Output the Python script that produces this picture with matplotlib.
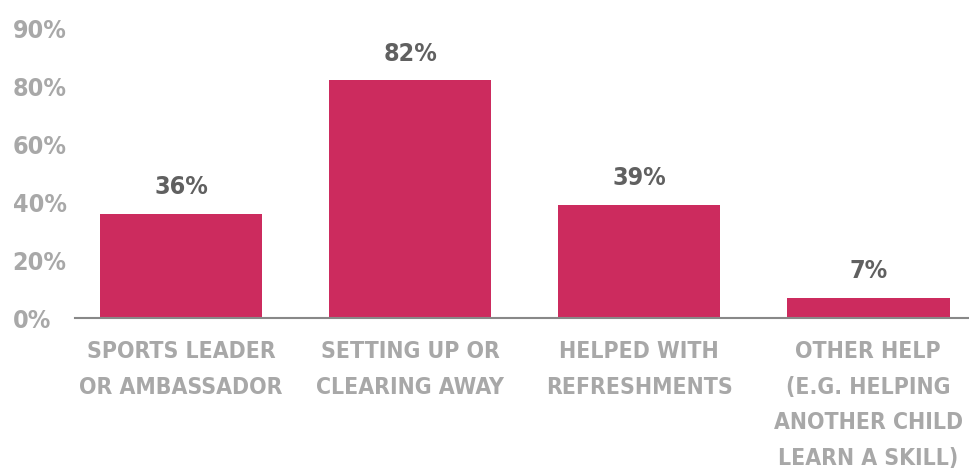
import matplotlib.pyplot as plt

categories = ['SPORTS LEADER\nOR AMBASSADOR', 'SETTING UP OR\nCLEARING AWAY',
              'HELPED WITH\nREFRESHMENTS', 'OTHER HELP\n(E.G. HELPING\nANOTHER CHILD\nLEARN A SKILL)']
values = [36, 82, 39, 7]
value_labels = ['36%', '82%', '39%', '7%']
ytick_values = [0, 20, 40, 60, 80, 100]
ytick_labels = ['0%', '20%', '40%', '60%', '80%', '90%']

plt.rcParams['font.family'] = ['DejaVu Sans']
plt.rcParams['font.stretch'] = 'condensed'
plt.rcParams['font.weight'] = 'bold'

fig = plt.figure(figsize=(9.69, 4.72), dpi=100)
ax = fig.add_axes([75 / 969, 1 - 318 / 472, 1 - 75 / 969, 290 / 472])

x = range(len(categories))
ax.bar(x, values, width=0.71, color='#cc2b5e')
for xi, v, lab in zip(x, values, value_labels):
    ax.text(xi, v + 5, lab, ha='center', va='bottom', fontsize=18,
            color='#606060', fontweight='bold')

ax.set_xlim(-0.463, 3.44)
ax.set_ylim(0, 100)
ax.set_yticks(ytick_values)
ax.set_yticklabels(ytick_labels, fontsize=18, color='#a8a8a8', fontweight='bold',
                   ha='left', va='center_baseline')
ax.set_xticks(list(x))
ax.set_xticklabels(categories, fontsize=16.5, color='#a8a8a8', fontweight='bold',
                   linespacing=1.7, va='top')
ax.tick_params(axis='both', length=0)
ax.tick_params(axis='x', pad=16)
ax.tick_params(axis='y', pad=45)
for s in ['top', 'right', 'left']:
    ax.spines[s].set_visible(False)
ax.spines['bottom'].set_color('#888888')
ax.spines['bottom'].set_linewidth(1.5)

fig.savefig('out.png', dpi=100)
